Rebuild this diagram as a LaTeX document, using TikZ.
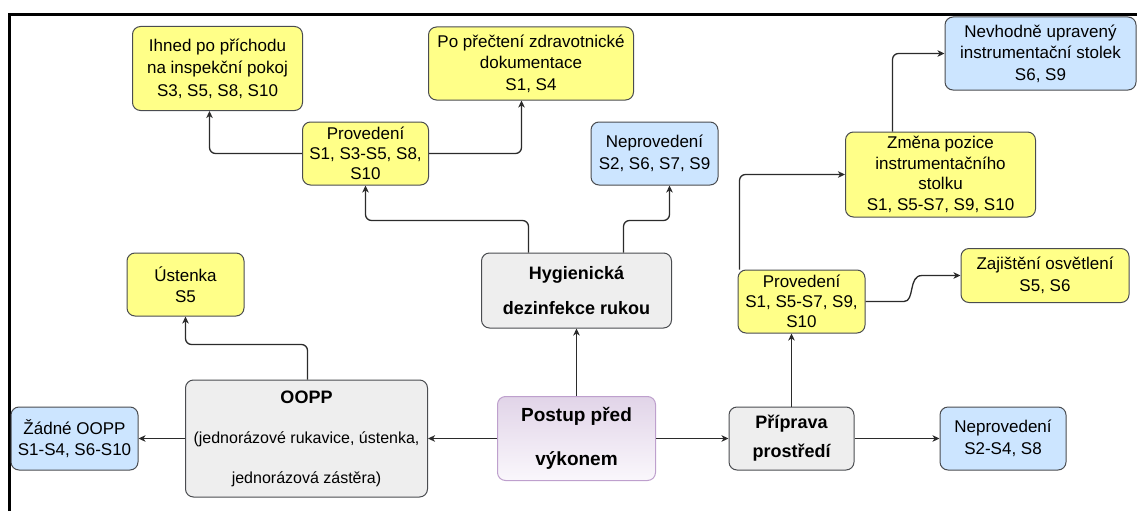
\documentclass[tikz,border=0pt]{standalone}
\usepackage{fontspec}
\setmainfont{Liberation Sans}
\usetikzlibrary{arrows.meta}
\definecolor{yelfill}{HTML}{FFFF88}
\definecolor{bluefill}{HTML}{CCE5FF}
\definecolor{grayfill}{HTML}{EEEEEE}
\definecolor{edgec}{HTML}{4A4C50}
\definecolor{linec}{HTML}{2B2B2B}
\definecolor{purtop}{RGB}{225,212,232}
\definecolor{purbot}{RGB}{250,247,252}
\definecolor{puredge}{RGB}{190,160,205}
\begin{document}
\begin{tikzpicture}[x=1pt,y=-1pt,
  box/.style={draw=edgec, line width=1pt, rounded corners=8pt, inner sep=0pt,
    align=center, text=black, font=\fontsize{17}{21.5}\selectfont},
  ybox/.style={box, fill=yelfill},
  bbox/.style={box, fill=bluefill},
  gbox/.style={box, fill=grayfill},
  boldlbl/.style={font=\bfseries\fontsize{18}{#1}\selectfont},
  conn/.style={draw=linec, line width=1.3pt, rounded corners=6pt,
    -{Stealth[length=7pt,width=6.5pt,inset=2pt]}},
  curveconn/.style={draw=linec, line width=1.3pt,
    -{Stealth[length=7pt,width=6.5pt,inset=2pt]}}]
\useasboundingbox (0,0) rectangle (1137,511);

% outer frame (top and left edges)
\draw[line width=3pt, black] (9,511) -- (9,15) -- (1137,15);

% central node and main branches
\node[box, shading=axis, top color=purtop, bottom color=purbot, draw=puredge,
  minimum width=158pt, minimum height=84pt,
  font=\bfseries\fontsize{19}{44}\selectfont]
  (postup) at (576.5,438.5) {Postup před\\výkonem};
\node[gbox, minimum width=190pt, minimum height=75pt, boldlbl=35]
  (hyg) at (576.5,290.5) {Hygienická\\dezinfekce rukou};
\node[gbox, minimum width=242pt, minimum height=117pt,
  font=\fontsize{16}{40}\selectfont]
  (oopp) at (306.5,438.5) {{\bfseries\fontsize{18}{40}\selectfont OOPP}\\(jednorázové rukavice, ústenka,\\jednorázová zástěra)};
\node[gbox, minimum width=125pt, minimum height=63pt, boldlbl=29]
  (priprava) at (791.5,438.5) {Příprava\\prostředí};

% hand hygiene branch
\node[ybox, minimum width=126pt, minimum height=63pt, font=\fontsize{17}{20}\selectfont]
  (provL) at (365.5,153.5) {Provedení\\S1, S3-S5, S8,\\S10};
\node[bbox, minimum width=127pt, minimum height=63pt]
  (neprovT) at (654.5,153.5) {Neprovedení\\S2, S6, S7, S9};
\node[ybox, minimum width=170pt, minimum height=84pt, font=\fontsize{17}{22.5}\selectfont]
  (ihned) at (217.5,68.5) {Ihned po příchodu\\na inspekční pokoj\\S3, S5, S8, S10};
\node[ybox, minimum width=205pt, minimum height=73pt]
  (poprec) at (531,63.5) {Po přečtení zdravotnické\\dokumentace\\S1, S4};

% protective equipment branch
\node[ybox, minimum width=117pt, minimum height=63pt]
  (ustenka) at (185.5,284.5) {Ústenka\\S5};
\node[bbox, minimum width=127pt, minimum height=63pt]
  (zadne) at (74.5,438.5) {Žádné OOPP\\S1-S4, S6-S10};

% environment preparation branch
\node[bbox, minimum width=126pt, minimum height=63pt]
  (neprovB) at (1003,438.5) {Neprovedení\\S2-S4, S8};
\node[ybox, minimum width=127pt, minimum height=63pt, font=\fontsize{17}{20}\selectfont]
  (provR) at (801.5,301.5) {Provedení\\S1, S5-S7, S9,\\S10};
\node[ybox, minimum width=168pt, minimum height=54pt]
  (zajisteni) at (1045,275.5) {Zajištění osvětlení\\S5, S6};
\node[ybox, minimum width=190pt, minimum height=85pt, font=\fontsize{17}{20.5}\selectfont]
  (zmena) at (940.5,174.5) {Změna pozice\\instrumentačního\\stolku\\S1, S5-S7, S9, S10};
\node[bbox, minimum width=191pt, minimum height=73pt]
  (nevhodne) at (1040.5,53.5) {Nevhodně upravený\\instrumentační stolek\\S6, S9};

% connectors
\draw[conn] (postup.north) -- (hyg.south);
\draw[conn] (postup.west) -- (oopp.east);
\draw[conn] (oopp.west) -- (zadne.east);
\draw[conn] (postup.east) -- (priprava.west);
\draw[conn] (priprava.east) -- (neprovB.west);
\draw[conn] (priprava.north) -- (priprava.north |- provR.south);

\draw[conn] ([xshift=-48pt]hyg.north) -- (528.5,220.5) -- (365.5,220.5) -- (provL.south);
\draw[conn] ([xshift=47pt]hyg.north) -- (623.5,220.5) -- (669.5,220.5) -- ([xshift=15pt]neprovT.south);
\draw[conn] (provL.west) -- (209.5,153.5) -- ([xshift=-8pt]ihned.south);
\draw[conn] (provL.east) -- (521.5,153.5) -- ([xshift=-9.5pt]poprec.south);

\draw[conn] ([xshift=1pt]oopp.north) -- (307.5,344.5) -- (185.5,344.5) -- (ustenka.south);

\draw[conn] ([xshift=-62pt]provR.north) -- (739.5,174.5) -- (zmena.west);
\draw[conn] ([xshift=-48pt]zmena.north) -- (892.5,53.5) -- (nevhodne.west);
\draw[curveconn] (provR.east) -- (904,301.5)
  .. controls (915,301.5) and (908,275.5) .. (922,275.5) -- (zajisteni.west);
\end{tikzpicture}
\end{document}
